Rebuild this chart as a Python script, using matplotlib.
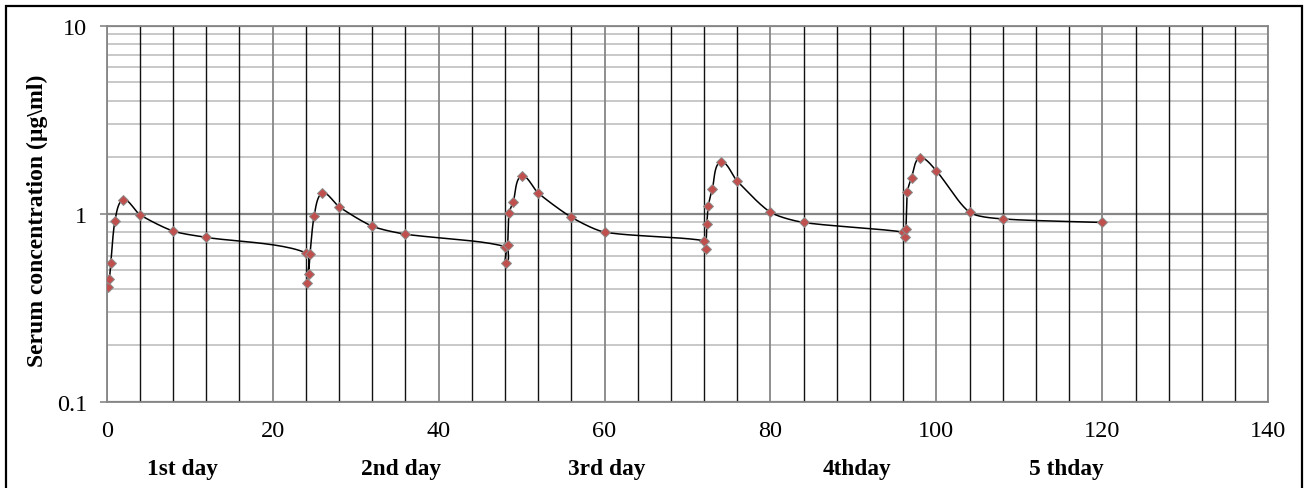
import numpy as np
import matplotlib
matplotlib.use('Agg')
import matplotlib.pyplot as plt
import matplotlib.transforms as mtransforms
from matplotlib.patches import Rectangle
from matplotlib.ticker import FixedLocator, FixedFormatter, MultipleLocator, LogLocator, NullFormatter

# Times-like font as in the original Excel chart
plt.rcParams['font.family'] = ['Liberation Serif', 'DejaVu Serif']

# sampling times (h) and serum concentrations (ug/ml)
time_h = [0.17, 0.33, 0.5, 1, 2, 4, 8, 12,
          24, 24.17, 24.33, 24.5, 25, 26, 28, 32, 36,
          48, 48.17, 48.33, 48.5, 49, 50, 52, 56, 60,
          72, 72.17, 72.33, 72.5, 73, 74, 76, 80, 84,
          96, 96.17, 96.33, 96.5, 97, 98, 100, 104, 108, 120]
conc = [0.41, 0.45, 0.55, 0.92, 1.19, 0.99, 0.81, 0.75,
        0.62, 0.43, 0.48, 0.61, 0.97, 1.29, 1.09, 0.86, 0.78,
        0.67, 0.55, 0.68, 1.01, 1.16, 1.59, 1.29, 0.96, 0.80,
        0.72, 0.65, 0.88, 1.10, 1.36, 1.89, 1.49, 1.02, 0.90,
        0.80, 0.75, 0.83, 1.31, 1.56, 1.99, 1.69, 1.02, 0.94, 0.90]

x_ticks = [0, 20, 40, 60, 80, 100, 120, 140]
y_ticks = [0.1, 1, 10]
y_tick_labels = ['0.1', '1', '10']
day_labels = ['1st day', '2nd day', '3rd day', '4thday', '5 thday']
day_label_pos = [9.1, 35.5, 60.3, 90.4, 115.7]


def smooth_curve(ax, xs, ys, tension=0.25, steps=24):
    """Excel-like smoothed line: cubic Bezier through the points, built in pixel space"""
    pts = ax.transData.transform(np.column_stack([xs, ys]))
    n = len(pts)
    out = [pts[0]]
    t = np.linspace(0, 1, steps)[1:, None]
    for i in range(n - 1):
        p0, p1, p2, p3 = pts[max(i - 1, 0)], pts[i], pts[i + 1], pts[min(i + 2, n - 1)]
        seg = np.hypot(*(p2 - p1))
        d1 = p2 - p0
        d1 = d1 / np.hypot(*d1)
        d2 = p3 - p1
        d2 = d2 / np.hypot(*d2)
        c1 = p1 + d1 * seg * tension
        c2 = p2 - d2 * seg * tension
        b = (1 - t) ** 3 * p1 + 3 * (1 - t) ** 2 * t * c1 + 3 * (1 - t) * t ** 2 * c2 + t ** 3 * p2
        out.extend(b)
    return ax.transData.inverted().transform(np.array(out))


W, H = 1307, 489
fig = plt.figure(figsize=(W / 100, H / 100), dpi=100)
ax = fig.add_axes([106.7 / W, 1 - 403 / H, (1268.3 - 106.7) / W, (403 - 26.7) / H])

ax.set_xlim(0, 140)
ax.set_yscale('log')
ax.set_ylim(0.1, 10)

# 网格
ax.xaxis.set_major_locator(FixedLocator(x_ticks))
ax.xaxis.set_minor_locator(MultipleLocator(4))
ax.set_xticklabels([str(v) for v in x_ticks])
ax.yaxis.set_major_locator(FixedLocator(y_ticks))
ax.yaxis.set_major_formatter(FixedFormatter(y_tick_labels))
ax.yaxis.set_minor_locator(LogLocator(base=10, subs=np.arange(2, 10)))
ax.yaxis.set_minor_formatter(NullFormatter())

ax.grid(which='minor', axis='y', color='#c4c4c4', linewidth=1.3)
ax.grid(which='major', axis='y', color='#868686', linewidth=1.6)
ax.grid(which='minor', axis='x', color='#111111', linewidth=1.0)
ax.grid(which='major', axis='x', color='#868686', linewidth=1.3)
ax.set_axisbelow(True)
ax.xaxis.set_zorder(0.6)

ax.tick_params(axis='x', which='both', length=0, pad=13, labelsize=17.5)
ax.tick_params(axis='y', which='major', length=5, width=1.2, color='#868686',
               direction='out', pad=9, labelsize=17.5)
ax.tick_params(axis='y', which='minor', length=0)
for sp in ax.spines.values():
    sp.set_color('#868686')
    sp.set_linewidth(1.3)

# 曲线和数据点
curve = smooth_curve(ax, time_h, conc)
ax.plot(curve[:, 0], curve[:, 1], color='black', linewidth=1.1, zorder=3)
ax.plot(time_h, conc, linestyle='none', marker='D', markersize=4.6,
        markerfacecolor='#c0504d', markeredgecolor='#8c8c8c', markeredgewidth=0.7, zorder=4)

# 天数标签
trans = mtransforms.blended_transform_factory(ax.transData, ax.transAxes)
for pos, lab in zip(day_label_pos, day_labels):
    ax.text(pos, -0.178, lab, transform=trans, ha='center', va='center',
            fontsize=16.8, fontweight='bold')

fig.text(37 / W, 1 - 221 / H, 'Serum concentration (µg\\ml)', rotation=90,
         ha='center', va='center', fontsize=17, fontweight='bold')

# chart border
fig.add_artist(Rectangle((6 / W, -0.05), (1302 - 6) / W, 1.05 - 7 / H, transform=fig.transFigure,
                         fill=False, edgecolor='black', linewidth=1.6))

fig.savefig('out.png', dpi=100, facecolor='white')
plt.close(fig)
